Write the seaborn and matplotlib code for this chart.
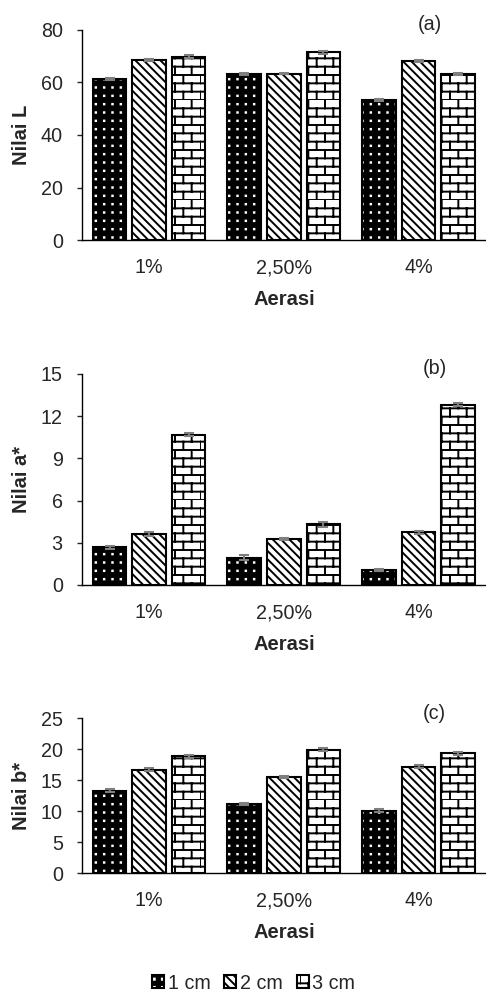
import warnings
import numpy as np
import pandas as pd
import matplotlib
matplotlib.use('Agg')
import matplotlib.pyplot as plt
import matplotlib.hatch as mhatch
from matplotlib.path import Path
import seaborn as sns

warnings.filterwarnings('ignore')

# data
aerasi = ['1%', '2,50%', '4%']
ukuran = ['1 cm', '2 cm', '3 cm']

nilai_L = [[61.4, 63.4, 53.4], [68.5, 63.4, 68.2], [69.9, 71.5, 63.4]]
err_L = [[0.4, 0.4, 0.4], [0.3, 0.3, 0.3], [0.5, 0.5, 0.4]]

nilai_a = [[2.68, 1.95, 1.07], [3.63, 3.28, 3.75], [10.68, 4.30, 12.82]]
err_a = [[0.12, 0.15, 0.10], [0.15, 0.08, 0.10], [0.10, 0.15, 0.10]]

nilai_b = [[13.3, 11.1, 10.05], [16.7, 15.5, 17.15], [18.8, 19.9, 19.3]]
err_b = [[0.2, 0.2, 0.2], [0.2, 0.2, 0.2], [0.2, 0.2, 0.2]]

panels = [
    ('Nilai L', '(a)', nilai_L, err_L, [0, 20, 40, 60, 80]),
    ('Nilai a*', '(b)', nilai_a, err_a, [0, 3, 6, 9, 12, 15]),
    ('Nilai b*', '(c)', nilai_b, err_b, [0, 5, 10, 15, 20, 25]),
]


# brick hatch (not built into matplotlib)
class BrickHatch(mhatch.HatchPatternBase):
    def __init__(self, hatch, density):
        n = hatch.count('b')
        self.rows = 12 * n
        self.cols = 6 * n
        self.num_vertices = 2 * (self.rows + self.rows * self.cols) if n else 0

    def set_vertices_and_codes(self, vertices, codes):
        v = []
        for i in range(self.rows):
            y0 = i / self.rows
            y1 = (i + 1) / self.rows
            v += [(0, y0), (1, y0)]
            shift = 0.5 * (i % 2)
            for j in range(self.cols):
                x = ((j + shift) / self.cols) % 1.0
                v += [(x, y0), (x, y1)]
        vertices[:] = np.array(v)
        codes[0::2] = Path.MOVETO
        codes[1::2] = Path.LINETO


# square dot grid (aligned, not staggered like '.')
class DotGrid(mhatch.HatchPatternBase):
    def __init__(self, hatch, density):
        n = hatch.count('d')
        self.n = 12 * n
        self.num_vertices = 5 * self.n * self.n if n else 0

    def set_vertices_and_codes(self, vertices, codes):
        s = 0.006
        v = []
        c = []
        for i in range(self.n):
            for j in range(self.n):
                x = (j + 0.5) / self.n
                y = (i + 0.5) / self.n
                v += [(x - s, y - s), (x + s, y - s), (x + s, y + s), (x - s, y + s), (x - s, y - s)]
                c += [Path.MOVETO, Path.LINETO, Path.LINETO, Path.LINETO, Path.CLOSEPOLY]
        vertices[:] = np.array(v)
        codes[:] = c


mhatch._hatch_types.append(BrickHatch)
mhatch._hatch_types.append(DotGrid)

sns.set_style('white')
plt.rcParams['font.family'] = ['Liberation Sans', 'DejaVu Sans']
plt.rcParams['hatch.linewidth'] = 1.4

fig = plt.figure(figsize=(4.86, 9.93), dpi=100)
boxes = [
    [0.168, 0.7583, 0.832, 0.2115],
    [0.168, 0.4109, 0.832, 0.2125],
    [0.168, 0.1208, 0.832, 0.1561],
]
tag_pos = [(0.86, 1.024), (0.873, 1.028), (0.873, 1.032)]

hatches = ['d', '\\\\\\\\', 'b']
faces = ['black', 'white', 'white']
fs_tick = 14.2
fs_lab = 14.5

for box, tp, (ylab, tag, vals, errs, yt) in zip(boxes, tag_pos, panels):
    ax = fig.add_axes(box)
    rows = []
    for k, u in enumerate(ukuran):
        for m, a in enumerate(aerasi):
            rows.append({'Aerasi': a, 'Ukuran': u, 'nilai': vals[k][m]})
    df = pd.DataFrame(rows)
    sns.barplot(data=df, x='Aerasi', y='nilai', hue='Ukuran', order=aerasi,
                hue_order=ukuran, palette=faces, width=0.88, gap=0.15,
                errorbar=None, edgecolor='black', linewidth=1.5, legend=False, ax=ax)
    bar_conts = list(ax.containers)
    for k, cont in enumerate(bar_conts):
        xs = []
        for p in cont.patches:
            p.set_hatch(hatches[k])
            p.set_edgecolor('black')
            if k == 0:
                p._hatch_color = (1, 1, 1, 1)
                p._hatch_linewidth = 0.9
            xs.append(p.get_x() + p.get_width() / 2)
        ax.errorbar(xs, vals[k], yerr=errs[k], fmt='none', ecolor='#7f7f7f',
                    elinewidth=1.5, capsize=3.5, capthick=1.5, zorder=5)
    ax.set_ylim(yt[0], yt[-1])
    ax.set_xlim(-0.5, 2.5)
    ax.set_yticks(yt)
    ax.set_ylabel(ylab, fontsize=fs_lab, fontweight='bold', labelpad=7)
    ax.set_xlabel('Aerasi', fontsize=fs_lab, fontweight='bold', labelpad=9)
    ax.tick_params(axis='y', labelsize=fs_tick, length=3.6, width=1, direction='out',
                   left=True, pad=10)
    ax.tick_params(axis='x', labelsize=fs_tick, length=0, pad=13)
    sns.despine(ax=ax)
    for s in ['left', 'bottom']:
        ax.spines[s].set_color('black')
        ax.spines[s].set_linewidth(1)
    ax.text(tp[0], tp[1], tag, transform=ax.transAxes, ha='center', va='center',
            fontsize=fs_tick, clip_on=False)

handles = [bar_conts[k].patches[0] for k in range(3)]
fig.legend(handles, ukuran, loc='center', bbox_to_anchor=(0.522, 0.01), ncol=3,
           frameon=False, fontsize=fs_tick, handlelength=0.6, handleheight=0.6,
           handletextpad=0.2, columnspacing=0.7, borderaxespad=0)

fig.savefig('out.png', dpi=100)
